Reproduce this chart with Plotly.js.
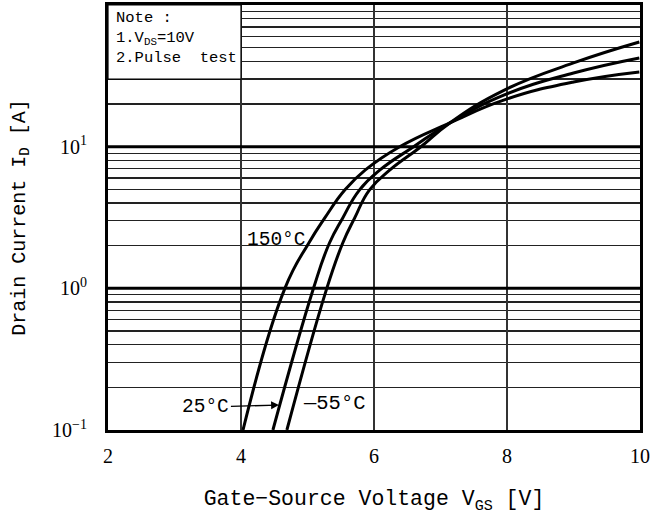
<!DOCTYPE html>
<html>
<head>
<meta charset="utf-8">
<script src="https://cdn.plot.ly/plotly-3.0.1.min.js"></script>
<style>html,body{margin:0;padding:0;background:#fff;}#chart{width:671px;height:515px;}</style>
</head>
<body>
<div id="chart"></div>
<script>
// Transfer characteristics: gate-source voltage [V] vs drain current [A]
const vgs150 = [4.03, 4.66, 5.02, 5.26, 5.56, 5.87, 6.38, 7.14, 7.96, 9.00, 9.99];
const id150  = [0.10, 1.00, 2.09, 3.14, 4.94, 6.85, 9.95, 14.7, 21.4, 28.6, 33.7];
const vgs25  = [4.48, 5.09, 5.33, 5.53, 5.78, 6.09, 6.59, 7.14, 7.96, 9.00, 9.99];
const id25   = [0.10, 1.00, 2.09, 3.14, 4.94, 6.85, 9.95, 14.7, 23.2, 33.1, 42.3];
const vgsM55 = [4.69, 5.29, 5.53, 5.71, 5.93, 6.24, 6.70, 7.14, 7.96, 9.00, 9.99];
const idM55  = [0.10, 1.00, 2.09, 3.14, 4.94, 6.85, 9.95, 14.7, 25.1, 39.0, 54.8];

const xTicks = [2, 4, 6, 8, 10];
const decades = [0.1, 1, 10];
const decadeLabels = ['10<sup>\u22121</sup>', '10<sup>0</sup>', '10<sup>1</sup>'];
const minorSteps = [2, 3, 4, 5, 6, 7, 8, 9];

const minorVals = [];
decades.forEach(d => minorSteps.forEach(m => minorVals.push(d * m)));

const curve = (x, y) => ({
  x: x, y: y, type: 'scatter', mode: 'lines',
  line: {color: '#000', width: 3, shape: 'spline', smoothing: 1.3},
  showlegend: false, hoverinfo: 'skip'
});

const traces = [curve(vgs150, id150), curve(vgs25, id25), curve(vgsM55, idM55)];

const mono = 'Liberation Mono, Courier New, monospace';
const serif = 'Liberation Serif, Times New Roman, serif';

const shapes = [];
[1, 10].forEach(d => shapes.push({
  type: 'line', xref: 'paper', yref: 'y', x0: 0, x1: 1, y0: d, y1: d,
  line: {color: '#000', width: 3}
}));
shapes.push({
  type: 'rect', xref: 'x', yref: 'y', x0: 2, x1: 4, y0: 30, y1: 100,
  fillcolor: '#fff', line: {color: '#000', width: 1.2}, layer: 'above'
});

const annotations = [
  {xref: 'x', yref: 'y', x: 2.09, y: Math.log10(97), xanchor: 'left', yanchor: 'top', align: 'left',
   showarrow: false, font: {family: mono, size: 15.5, color: '#000'},
   text: 'Note :<br>1.V<sub>DS</sub>=10V<br>2.Pulse  test'},
  {xref: 'x', yref: 'y', x: 4.06, y: Math.log10(2.2), xanchor: 'left', yanchor: 'middle',
   showarrow: false, font: {family: mono, size: 19.5, color: '#000'}, text: '150°C'},
  {xref: 'x', yref: 'y', x: 4.57, y: Math.log10(0.15), ax: -73, ay: 2,
   showarrow: true, arrowhead: 2, arrowsize: 1.2, arrowwidth: 1.3, arrowcolor: '#000',
   font: {family: mono, size: 19.5, color: '#000'}, text: '25°C', standoff: 0},
  {xref: 'x', yref: 'y', x: 4.9, y: Math.log10(0.155), xanchor: 'left', yanchor: 'middle',
   showarrow: false, font: {family: mono, size: 20.5, color: '#000'}, text: '\u201455°C'}
];

const layout = {
  width: 671, height: 515,
  margin: {l: 108, r: 31, t: 5, b: 85},
  paper_bgcolor: '#fff', plot_bgcolor: '#fff',
  xaxis: {
    range: [2, 10], tickvals: xTicks, ticktext: xTicks.map(String),
    showgrid: true, gridcolor: '#333', gridwidth: 1.2, zeroline: false,
    showline: true, mirror: true, linecolor: '#000', linewidth: 3,
    ticks: 'outside', ticklen: 6, tickcolor: 'rgba(0,0,0,0)',
    tickfont: {family: serif, size: 20, color: '#000'},
    title: {text: 'Gate\u2212Source Voltage V<sub>GS</sub> [V]', font: {family: mono, size: 21.5, color: '#000'}, standoff: 25}
  },
  yaxis: {
    type: 'log', range: [-1, 2], tickvals: decades, ticktext: decadeLabels,
    showgrid: true, gridcolor: '#222', gridwidth: 1.3, zeroline: false,
    showline: true, mirror: true, linecolor: '#000', linewidth: 3,
    ticks: 'outside', ticklen: 14, tickcolor: 'rgba(0,0,0,0)',
    tickfont: {family: serif, size: 20, color: '#000'},
    minor: {tickvals: minorVals, showgrid: true, gridcolor: '#222', gridwidth: 1.3, ticks: ''},
    title: {text: 'Drain Current I<sub>D</sub> [A]', font: {family: mono, size: 20, color: '#000'}, standoff: 22}
  },
  shapes: shapes,
  annotations: annotations
};

Plotly.newPlot('chart', traces, layout, {displayModeBar: false, staticPlot: true});
</script>
</body>
</html>
